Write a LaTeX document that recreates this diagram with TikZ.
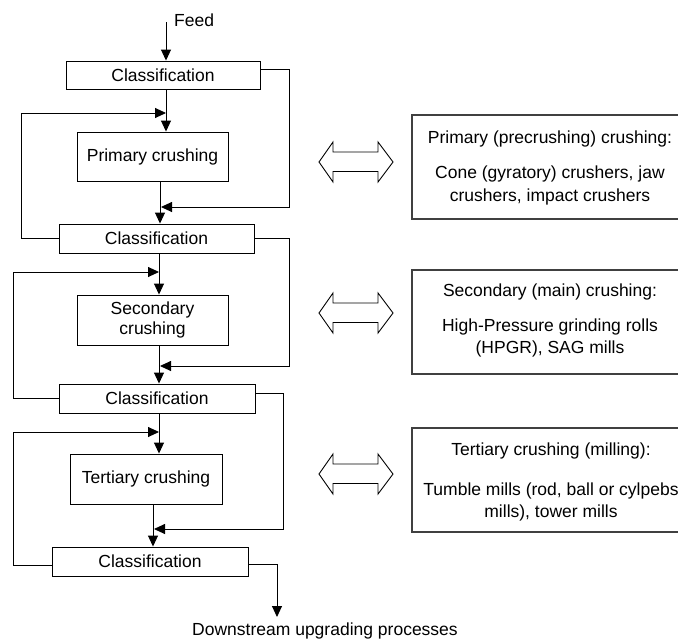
\documentclass[tikz,border=0pt]{standalone}
\usepackage{fontspec}
\setmainfont{Liberation Sans}
\usetikzlibrary{arrows.meta}
\begin{document}
\begin{tikzpicture}[x=1pt,y=-1pt,
  font=\fontsize{17.5}{20}\selectfont,
  flow/.style={line width=0.9pt,draw=black},
  arr/.style={flow,-{Triangle[length=11pt,width=10pt]}},
  box/.style={draw=black,line width=0.9pt,rectangle,inner sep=0pt,align=center},
  info/.style={draw=black!75,line width=1.2pt},
  txt/.style={inner sep=0pt,align=center},
  dbl/.style={draw=black,line width=0.9pt,line join=miter}]
\useasboundingbox (0,0) rectangle (678,640);
\clip (0,0) rectangle (678,640);
% column of boxes
\node[box,minimum width=194,minimum height=28] (cls1) at (163,75) {Classification};
\node[box,minimum width=151,minimum height=49] (prim) at (152.5,156.5) {Primary crushing};
\node[box,minimum width=195,minimum height=29] (cls2) at (156.5,238.5) {Classification};
\node[box,minimum width=151,minimum height=50,font=\fontsize{17.5}{19.5}\selectfont] (sec) at (152.5,320) {Secondary\\crushing};
\node[box,minimum width=196,minimum height=29] (cls3) at (157,398.5) {Classification};
\node[box,minimum width=152,minimum height=50] (ter) at (146,479) {Tertiary crushing};
\node[box,minimum width=196,minimum height=29] (cls4) at (150,561.5) {Classification};
% free ends
\coordinate (feed) at (166,22);
\node[txt,anchor=west] (feedlbl) at (174,20) {Feed};
\coordinate (xa) at (166,0);
\coordinate (xb) at (160,0);
\coordinate (xc) at (159,0);
\coordinate (xd) at (153,0);
\coordinate (out) at (277,617);
\node[txt] (down) at (325,631) {Downstream upgrading processes};
% main flow
\draw[arr] (feed) -- (cls1.north -| xa);
\draw[arr] (cls1.south -| xa) -- (prim.north -| xa);
\draw[arr] (prim.south -| xb) -- (cls2.north -| xb);
\draw[arr] (cls2.south -| xc) -- (sec.north -| xc);
\draw[arr] (sec.south -| xc) -- (cls3.north -| xc);
\draw[arr] (cls3.south -| xc) -- (ter.north -| xc);
\draw[arr] (ter.south -| xd) -- (cls4.north -| xd);
% recycle loops (left)
\coordinate (l1) at (166,113);
\coordinate (l2) at (159,272);
\coordinate (l3) at (159,432);
\draw[arr] ([yshift=0.5pt]cls2.west) -| (21,113) -- (l1);
\draw[arr] (cls3.west) -| (13,272) -- (l2);
\draw[arr] ([yshift=-3.5pt]cls4.west) -| (13,432) -- (l3);
% bypass loops (right)
\coordinate (r1) at (161,207);
\coordinate (r2) at (160,366);
\coordinate (r3) at (154,529);
\draw[arr] ([yshift=6pt]cls1.east) -| (289,207) -- (r1);
\draw[arr] ([yshift=0.5pt]cls2.east) -| (289,366) -- (r2);
\draw[arr] ([yshift=5.5pt]cls3.east) -| (283,529) -- (r3);
\draw[arr] ([yshift=-2.5pt]cls4.east) -| (out);
% double arrows
\foreach \c in {162,313,474}{
  \draw[dbl] (319,\c) -- (333,\c-20) -- (333,\c-10) -- (378,\c-10) -- (378,\c-20)
    -- (393,\c) -- (378,\c+20) -- (378,\c+9.5) -- (333,\c+9.5) -- (333,\c+20) -- cycle;
}
% info boxes (right edge cut off by the picture border)
\draw[info] (700,115) -- (412,115) -- (412,219) -- (700,219);
\draw[info] (700,270) -- (412,270) -- (412,374) -- (700,374);
\draw[info] (700,428) -- (412,428) -- (412,532) -- (700,532);
\node[txt] (t1) at (550,139) {Primary (precrushing) crushing:};
\node[txt,font=\fontsize{17.5}{23}\selectfont] (b1) at (550,185) {Cone (gyratory) crushers, jaw\\crushers, impact crushers};
\node[txt] (t2) at (550,292) {Secondary (main) crushing:};
\node[txt,font=\fontsize{17.5}{22}\selectfont] (b2) at (550,337.5) {High-Pressure grinding rolls\\(HPGR), SAG mills};
\node[txt] (t3) at (551,451) {Tertiary crushing (milling):};
\node[txt,font=\fontsize{17.5}{22}\selectfont] (b3) at (551,501.5) {Tumble mills (rod, ball or cylpebs\\mills), tower mills};
\end{tikzpicture}
\end{document}
